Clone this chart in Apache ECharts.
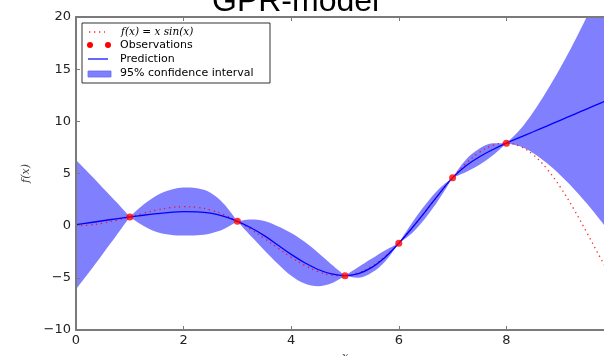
<!DOCTYPE html>
<html>
<head>
<meta charset="utf-8">
<script src="https://cdn.jsdelivr.net/npm/echarts@6/dist/echarts.min.js"></script>
<style>
  html, body { margin: 0; padding: 0; background: #fff; }
  #main { width: 604px; height: 356px; }
</style>
</head>
<body>
<div id="main"></div>
<script>
// sample positions on the x axis
const xValues = [
  0, 0.25, 0.5, 0.75, 1, 1.25, 1.5, 1.75, 2, 2.25, 2.5, 2.75, 3, 3.25, 3.5, 3.75, 4,
  4.25, 4.5, 4.75, 5, 5.25, 5.5, 5.75, 6, 6.25, 6.5, 6.75, 7, 7.25, 7.5, 7.75, 8,
  8.25, 8.5, 8.75, 9, 9.25, 9.5, 9.75, 10,
]
// red dotted curve f(x) = x sin(x)
const trueValues = [
  0, 0.062, 0.24, 0.511, 0.841, 1.186, 1.496, 1.722, 1.819, 1.751, 1.496, 1.05, 0.423,
  -0.352, -1.228, -2.143, -3.027, -3.804, -4.399, -4.747, -4.795, -4.509, -3.88, -2.923,
  -1.676, -0.207, 1.398, 3.038, 4.599, 5.97, 7.035, 7.707, 7.915, 7.607, 6.787, 5.466,
  3.709, 1.609, -0.714, -3.115, -5.44,
]
// blue prediction line
const predValues = [
  0.1, 0.28, 0.47, 0.66, 0.84, 1.0, 1.15, 1.28, 1.35, 1.33, 1.2, 0.88, 0.42,
  -0.2, -0.95, -1.85, -2.75, -3.55, -4.2, -4.62, -4.79, -4.6, -4.0, -3.0,
  -1.68, -0.2, 1.4, 3.05, 4.6, 5.75, 6.6, 7.3, 7.91, 8.46, 9.0, 9.55,
  10.1, 10.65, 11.2, 11.75, 12.3,
]
// 95% confidence band edges
const lowerValues = [
  -6.1, -4.42, -2.68, -0.94, 0.84, 0.0, -0.6, -0.87, -0.95, -0.92, -0.75, -0.32, 0.42,
  -1.0, -2.35, -3.65, -4.8, -5.55, -5.8, -5.52, -4.79, -5.0, -4.5, -3.4,
  -1.68, -0.7, 0.75, 2.55, 4.6, 5.15, 5.85, 6.75, 7.91, 7.6, 6.95, 6.0,
  4.85, 3.55, 2.1, 0.5, -1.2,
]
const upperValues = [
  6.3, 4.98, 3.62, 2.26, 0.84, 2.0, 2.9, 3.43, 3.65, 3.58, 3.15, 2.08, 0.42,
  0.6, 0.45, -0.05, -0.7, -1.55, -2.6, -3.72, -4.79, -3.95, -3.15, -2.35,
  -1.68, 0.3, 2.05, 3.55, 4.6, 6.35, 7.4, 7.9, 7.91, 9.2, 10.9, 12.9,
  15.1, 17.5, 20.1, 22.9, 25.9,
]
// observations
const obsX = [1, 3, 5, 6, 7, 8]
const obsY = [0.84, 0.42, -4.79, -1.68, 4.6, 7.91]

const pairs = (ys) => xValues.map((x, i) => [x, ys[i]])

/** band edge data, broken at every observation so the pinches stay sharp */
function bandPairs(ys) {
  const out = []
  xValues.forEach((x, i) => {
    out.push([x, ys[i]])
    if (obsX.includes(x)) {
      out.push([x, null])
      out.push([x, ys[i]])
    }
  })
  return out
}

const chart = echarts.init(document.getElementById('main'), null, { renderer: 'canvas' })

const spineColor = '#7a7a7a'
const tickFont = { fontFamily: 'DejaVu Sans', fontSize: 13, color: '#222' }
const mathFont = { fontFamily: 'DejaVu Serif', fontStyle: 'italic', fontSize: 11, color: '#444' }

const option = {
  animation: false,
  backgroundColor: '#fff',
  title: {
    text: 'GPR-model',
    left: 212,
    top: -14,
    padding: 0,
    textStyle: { fontFamily: 'Liberation Sans', fontSize: 32, fontWeight: 'normal', color: '#000' },
  },
  grid: { left: 76, top: 17, width: 538, height: 313, outerBoundsMode: 'none' },
  xAxis: [
    {
      type: 'value',
      min: 0,
      max: 10,
      interval: 2,
      name: 'x',
      nameLocation: 'middle',
      nameGap: 17,
      nameTextStyle: mathFont,
      z: 10,
      axisLine: { onZero: false, lineStyle: { color: spineColor, width: 2 } },
      axisTick: { inside: true, length: 4, lineStyle: { color: spineColor } },
      axisLabel: { margin: 4, ...tickFont },
      splitLine: { show: false },
    },
    {
      type: 'value',
      position: 'top',
      min: 0,
      max: 10,
      interval: 2,
      z: 10,
      axisLine: { onZero: false, lineStyle: { color: spineColor, width: 2 } },
      axisTick: { inside: true, length: 4, lineStyle: { color: spineColor } },
      axisLabel: { show: false },
      splitLine: { show: false },
    },
  ],
  yAxis: {
    type: 'value',
    min: -10,
    max: 20,
    interval: 5,
    name: 'f(x)',
    nameLocation: 'middle',
    nameGap: 44,
    nameTextStyle: mathFont,
    z: 10,
    axisLine: { show: true, onZero: false, lineStyle: { color: spineColor, width: 2 } },
    axisTick: { show: true, inside: true, length: 4, lineStyle: { color: spineColor } },
    axisLabel: {
      margin: 5,
      ...tickFont,
      formatter: (v) => (v < 0 ? '\u2212' + Math.abs(v) : String(v)),
    },
    splitLine: { show: false },
  },
  series: [
    // band: fill below upper edge, then mask below lower edge with white
    {
      name: '95% confidence interval',
      type: 'line',
      data: bandPairs(upperValues),
      showSymbol: false,
      smooth: 0.35,
      connectNulls: false,
      lineStyle: { opacity: 0 },
      areaStyle: { color: '#8080ff', opacity: 1, origin: 'start' },
      silent: true,
      z: 1,
    },
    {
      name: 'lower',
      type: 'line',
      data: bandPairs(lowerValues),
      showSymbol: false,
      smooth: 0.35,
      connectNulls: false,
      lineStyle: { opacity: 0 },
      areaStyle: { color: '#ffffff', opacity: 1, origin: 'start' },
      silent: true,
      z: 1,
    },
    {
      name: 'f(x) = x sin(x)',
      type: 'line',
      data: pairs(trueValues),
      showSymbol: false,
      smooth: 0.4,
      lineStyle: { color: '#ff0000', width: 1.3, type: [1.3, 3.7], opacity: 0.85 },
      z: 3,
    },
    {
      name: 'Prediction',
      type: 'line',
      data: pairs(predValues),
      showSymbol: false,
      smooth: 0.4,
      lineStyle: { color: '#0000ff', width: 1.3 },
      z: 4,
    },
    {
      name: 'Observations',
      type: 'scatter',
      data: obsX.map((x, i) => [x, obsY[i]]),
      symbolSize: 7,
      itemStyle: { color: '#ff0000' },
      z: 5,
    },
  ],
  // legend box drawn by hand, matplotlib style
  graphic: [
    {
      type: 'rect',
      shape: { x: 82, y: 23, width: 188, height: 60 },
      style: { fill: '#fff', stroke: '#333', lineWidth: 1 },
      z: 10,
    },
    {
      type: 'line',
      shape: { x1: 89, y1: 32, x2: 105, y2: 32 },
      style: { stroke: '#ff0000', lineWidth: 1.3, lineDash: [1.3, 3.7], opacity: 0.85 },
      z: 11,
    },
    {
      type: 'text',
      x: 121,
      y: 32,
      style: {
        text: '{i|f}(x) = {i|x} sin(x)',
        fontFamily: 'DejaVu Serif',
        fontStyle: 'italic',
        fontSize: 10.5,
        fill: '#000',
        verticalAlign: 'middle',
        rich: { i: { fontFamily: 'DejaVu Serif', fontStyle: 'italic', fontSize: 10.5 } },
      },
      z: 11,
    },
    { type: 'circle', shape: { cx: 90, cy: 45, r: 3 }, style: { fill: '#ff0000' }, z: 11 },
    { type: 'circle', shape: { cx: 108, cy: 45, r: 3 }, style: { fill: '#ff0000' }, z: 11 },
    {
      type: 'text',
      x: 120,
      y: 45,
      style: { text: 'Observations', fontFamily: 'DejaVu Sans', fontSize: 11, fill: '#000', verticalAlign: 'middle' },
      z: 11,
    },
    {
      type: 'line',
      shape: { x1: 88, y1: 59, x2: 108, y2: 59 },
      style: { stroke: '#0000ff', lineWidth: 1.2 },
      z: 11,
    },
    {
      type: 'text',
      x: 120,
      y: 59,
      style: { text: 'Prediction', fontFamily: 'DejaVu Sans', fontSize: 11, fill: '#000', verticalAlign: 'middle' },
      z: 11,
    },
    {
      type: 'rect',
      shape: { x: 88, y: 71, width: 23, height: 6 },
      style: { fill: '#7f7fff', stroke: '#6a6af0', lineWidth: 0.8 },
      z: 11,
    },
    {
      type: 'text',
      x: 120,
      y: 73,
      style: { text: '95% confidence interval', fontFamily: 'DejaVu Sans', fontSize: 11, fill: '#000', verticalAlign: 'middle' },
      z: 11,
    },
  ],
}

chart.setOption(option)
</script>
</body>
</html>
